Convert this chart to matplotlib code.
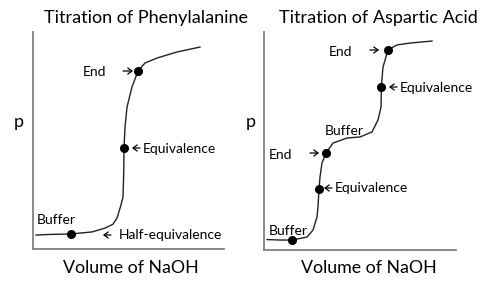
import matplotlib
matplotlib.use("Agg")
import matplotlib.pyplot as plt

plt.rcParams['font.family'] = ['Lato', 'DejaVu Sans']

# Data (volume of NaOH in mL, pH)
phe_vol = [0.63, 3.56, 7.96, 12.36, 15.08, 16.75, 17.6, 18.3, 18.85, 19.0, 19.06,
           19.27, 19.69, 20.73, 21.99, 23.46, 25.97, 30.16, 34.97]
phe_ph = [0.90, 0.94, 0.97, 1.10, 1.35, 1.60, 2.0, 2.7, 3.35, 4.90, 6.52,
          7.87, 9.16, 10.45, 11.48, 12.0, 12.32, 12.71, 13.03]
phe_pts_vol = [7.96, 19.06, 21.99]
phe_pts_ph = [0.97, 6.52, 11.48]

asp_vol = [0.63, 3.33, 5.83, 8.96, 10.21, 11.04, 11.25, 11.46, 11.67, 12.08,
           12.92, 14.38, 17.29, 20.0, 22.5, 23.75, 24.38, 24.45, 24.79, 25.83,
           27.71, 30.42, 35.0]
asp_ph = [0.67, 0.64, 0.64, 0.83, 1.28, 2.12, 2.76, 3.92, 4.69, 5.59,
          6.23, 6.87, 7.19, 7.26, 7.58, 8.35, 9.18, 10.47, 11.75, 12.84,
          13.17, 13.29, 13.42]
asp_pts_vol = [5.83, 11.46, 12.92, 24.45, 25.83]
asp_pts_ph = [0.64, 3.92, 6.23, 10.47, 12.84]

titles = ["Titration of Phenylalanine", "Titration of Aspartic Acid"]
xlabel = "Volume of NaOH"
ylabel = "p"

W, H = 500, 288
fig = plt.figure(figsize=(5, 2.88), dpi=100)

def fx(px):
    return px / W

def fy(py):
    return 1 - py / H

axL = fig.add_axes([fx(33), fy(249), 191 / W, 217 / H])
axR = fig.add_axes([fx(264), fy(250), 192 / W, 218 / H])

for ax in (axL, axR):
    ax.set_xlim(0, 40)
    ax.set_ylim(0, 14)
    for s in ('top', 'right'):
        ax.spines[s].set_visible(False)
    for s in ('left', 'bottom'):
        ax.spines[s].set_color('#808080')
        ax.spines[s].set_linewidth(1.3)
    ax.set_xticks([])
    ax.set_yticks([])
    ax.patch.set_alpha(0)

axL.plot(phe_vol, phe_ph, color='#222222', lw=1.0, clip_on=False)
axL.plot(phe_pts_vol, phe_pts_ph, 'o', color='black', ms=5.5, clip_on=False)
axR.plot(asp_vol, asp_ph, color='#222222', lw=1.0, clip_on=False)
axR.plot(asp_pts_vol, asp_pts_ph, 'o', color='black', ms=5.5, clip_on=False)

def txt(px, py, s, size=10, ha='left'):
    fig.text(fx(px), fy(py), s, ha=ha, va='center', fontsize=size, color='black')

def arrow(x0, y0, x1, y1):
    fig.add_artist(matplotlib.patches.FancyArrowPatch(
        (fx(x0), fy(y0)), (fx(x1), fy(y1)), transform=fig.transFigure,
        arrowstyle='->,head_length=3,head_width=2.2', lw=0.9, color='black',
        mutation_scale=1, shrinkA=0, shrinkB=0))

# titles and axis labels
txt(146, 18, titles[0], size=13, ha='center')
txt(378, 18, titles[1], size=13, ha='center')
txt(131, 268, xlabel, size=12.8, ha='center')
txt(369, 268, xlabel, size=12.8, ha='center')
txt(19, 122, ylabel, size=13, ha='center')
txt(251, 122, ylabel, size=13, ha='center')

# left annotations
txt(95, 72, "End", ha='center')
arrow(123, 71, 133, 71)
arrow(140, 148, 132, 148)
txt(143, 149, "Equivalence")
txt(56, 220, "Buffer", ha='center')
arrow(111, 235, 103, 235)
txt(119, 235, "Half-equivalence")

# right annotations
txt(281, 155, "End", ha='center')
arrow(310, 153, 319, 153)
arrow(332, 188, 324, 188)
txt(335, 188, "Equivalence")
txt(288, 231, "Buffer", ha='center')
txt(344, 131, "Buffer", ha='center')
txt(341, 52, "End", ha='center')
arrow(370, 50, 379, 50)
arrow(397, 87, 389, 87)
txt(400, 88, "Equivalence")

fig.savefig("out.png", dpi=100)
